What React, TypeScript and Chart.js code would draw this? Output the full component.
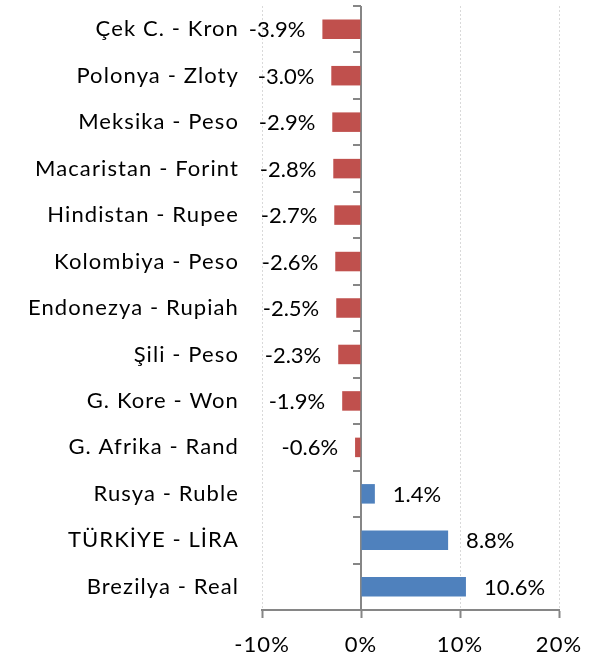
import React, { useEffect, useRef } from "react";
import { Chart, registerables } from "chart.js";

Chart.register(...registerables);

const categories = [
  "Çek C. - Kron",
  "Polonya - Zloty",
  "Meksika - Peso",
  "Macaristan - Forint",
  "Hindistan - Rupee",
  "Kolombiya - Peso",
  "Endonezya - Rupiah",
  "Şili - Peso",
  "G. Kore - Won",
  "G. Afrika - Rand",
  "Rusya - Ruble",
  "TÜRKİYE - LİRA",
  "Brezilya - Real",
];
const values = [-3.9, -3.0, -2.9, -2.8, -2.7, -2.6, -2.5, -2.3, -1.9, -0.6, 1.4, 8.8, 10.6];
const xTicks = [-10, 0, 10, 20];

const RED = "#C0504D";
const BLUE = "#4F81BD";
const AXIS = "#868686";
const FONT = "Lato";
const FSIZE = 22;

const spacingPlugin = {
  id: "spacing",
  beforeDraw(chart: any) {
    chart.ctx.letterSpacing = "1.1px";
  },
};

const gridPlugin = {
  id: "customGrid",
  beforeDatasetsDraw(chart: any) {
    const { ctx, chartArea, scales } = chart;
    const x = scales.x;
    ctx.save();
    ctx.strokeStyle = "#D9D9D9";
    ctx.lineWidth = 1;
    ctx.setLineDash([2, 2]);
    for (const t of xTicks) {
      if (t === 0) continue;
      const px = Math.round(x.getPixelForValue(t)) + 0.5;
      ctx.beginPath();
      ctx.moveTo(px, chartArea.top);
      ctx.lineTo(px, chartArea.bottom);
      ctx.stroke();
    }
    ctx.setLineDash([]);
    ctx.strokeStyle = AXIS;
    ctx.lineWidth = 2;
    const x0 = Math.round(x.getPixelForValue(0));
    ctx.beginPath();
    ctx.moveTo(x0, chartArea.top);
    ctx.lineTo(x0, chartArea.bottom);
    ctx.stroke();
    const n = categories.length;
    const step = (chartArea.bottom - chartArea.top) / n;
    for (let i = 0; i <= n; i++) {
      const py = Math.round(chartArea.top + i * step);
      ctx.beginPath();
      ctx.moveTo(x0 - 8, py);
      ctx.lineTo(x0, py);
      ctx.stroke();
    }
    ctx.restore();
  },
};

const labelPlugin = {
  id: "valueLabels",
  afterDatasetsDraw(chart: any) {
    const { ctx } = chart;
    const meta = chart.getDatasetMeta(0);
    ctx.save();
    ctx.letterSpacing = "0px";
    ctx.font = `${FSIZE}px ${FONT}`;
    ctx.fillStyle = "#000";
    ctx.textBaseline = "middle";
    meta.data.forEach((bar: any, i: number) => {
      const v = values[i];
      const txt = v.toFixed(1) + "%";
      if (v < 0) {
        ctx.textAlign = "right";
        ctx.fillText(txt, bar.x - 17, bar.y + 1);
      } else {
        ctx.textAlign = "left";
        ctx.fillText(txt, bar.x + 18, bar.y + 1);
      }
    });
    ctx.restore();
  },
};

export default function App() {
  const ref = useRef<HTMLCanvasElement>(null);
  useEffect(() => {
    const chart = new Chart(ref.current!, {
      type: "bar",
      data: {
        labels: categories,
        datasets: [
          {
            data: values,
            backgroundColor: values.map((v) => (v < 0 ? RED : BLUE)),
            barPercentage: 0.42,
            categoryPercentage: 1,
          },
        ],
      },
      options: {
        indexAxis: "y",
        animation: false,
        responsive: true,
        maintainAspectRatio: false,
        layout: { padding: { top: 6, right: 41, left: 0, bottom: 0 } },
        plugins: { legend: { display: false }, tooltip: { enabled: false } },
        scales: {
          x: {
            min: -10,
            max: 20,
            afterBuildTicks: (s: any) => {
              s.ticks = xTicks.map((v) => ({ value: v }));
            },
            afterFit: (s: any) => {
              s.height = 48;
              s.paddingLeft = 0;
              s.paddingRight = 0;
            },
            ticks: {
              callback: (v: any) => v + "%",
              color: "#000",
              font: { family: FONT, size: FSIZE },
              padding: 14,
              maxRotation: 0,
            },
            grid: {
              display: true,
              drawOnChartArea: false,
              drawTicks: true,
              tickLength: 8,
              tickColor: AXIS,
              tickWidth: 2,
              color: AXIS,
            },
            border: { display: true, color: AXIS, width: 2 },
          },
          y: {
            afterFit: (s: any) => {
              s.width = 262;
              s.paddingTop = 0;
              s.paddingBottom = 0;
            },
            ticks: {
              color: "#000",
              font: { family: FONT, size: FSIZE },
              padding: 23,
              autoSkip: false,
            },
            grid: { display: false, drawTicks: false },
            border: { display: false },
          },
        },
      },
      plugins: [spacingPlugin, gridPlugin, labelPlugin],
    });
    return () => chart.destroy();
  }, []);
  return (
    <div style={{ position: "absolute", left: 0, top: 0, width: 600, height: 658, background: "#fff" }}>
      <canvas ref={ref} />
    </div>
  );
}
